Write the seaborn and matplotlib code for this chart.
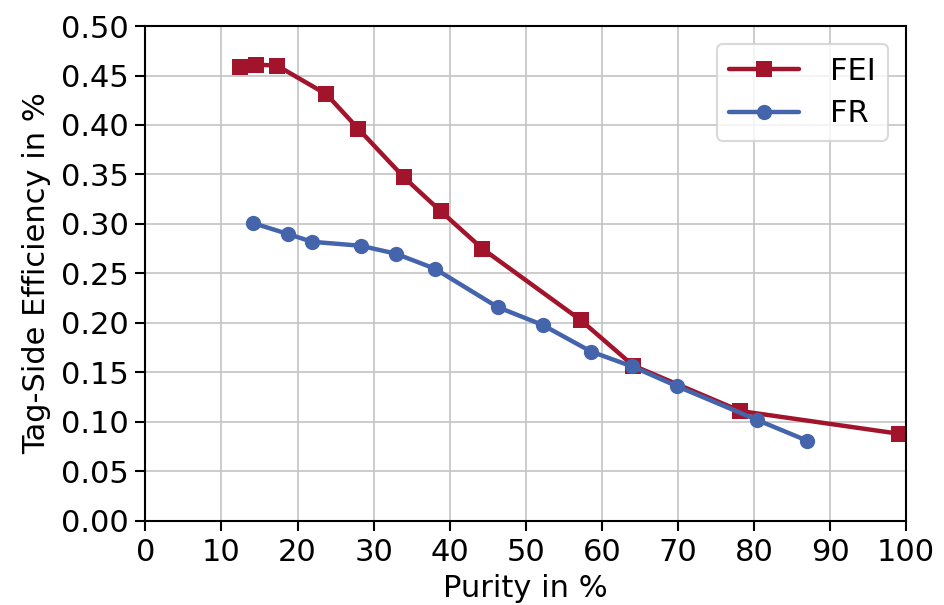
import matplotlib
matplotlib.use("Agg")
import matplotlib.pyplot as plt
import seaborn as sns
import pandas as pd

fei_purity = [12.4, 14.6, 17.3, 23.8, 28.0, 34.0, 38.8, 44.3, 57.2, 64.1, 78.2, 99.1]
fei_eff = [0.459, 0.461, 0.460, 0.431, 0.396, 0.347, 0.313, 0.275, 0.203, 0.157, 0.111, 0.088]
fr_purity = [14.1, 18.7, 21.9, 28.3, 32.9, 38.0, 46.3, 52.2, 58.6, 64.0, 69.9, 80.4, 87.0]
fr_eff = [0.301, 0.290, 0.282, 0.278, 0.270, 0.255, 0.216, 0.198, 0.171, 0.156, 0.136, 0.102, 0.081]

df = pd.concat([
    pd.DataFrame({"purity": fei_purity, "eff": fei_eff, "method": "FEI"}),
    pd.DataFrame({"purity": fr_purity, "eff": fr_eff, "method": "FR"}),
])

sns.set_style("ticks")
plt.rcParams["font.family"] = ["DejaVu Sans"]
plt.rcParams.update({"text.color": "black", "axes.labelcolor": "black",
                     "xtick.color": "black", "ytick.color": "black"})

fig, ax = plt.subplots(figsize=(9.44, 6.05), dpi=100)
fig.subplots_adjust(left=0.154, right=0.96, top=0.957, bottom=0.139)

palette = {"FEI": "#A2142B", "FR": "#4464AC"}
sns.lineplot(data=df, x="purity", y="eff", hue="method", style="method",
             markers={"FEI": "s", "FR": "o"}, dashes=False, palette=palette,
             linewidth=3.2, markersize=11, markeredgewidth=0, sort=False, ax=ax)

ax.set_xlim(0, 100)
ax.set_ylim(0, 0.5)
ax.set_xticks(range(0, 101, 10))
ax.set_yticks([i * 0.05 for i in range(11)])
ax.set_yticklabels([f"{i * 0.05:.2f}" for i in range(11)])
ax.grid(True, color="#c4c4c4", linewidth=1.2)
ax.set_axisbelow(True)
ax.tick_params(labelsize=22, length=7, width=1.5, pad=5)
for s in ax.spines.values():
    s.set_linewidth(1.5)
    s.set_color("black")
ax.set_xlabel("Purity in %", fontsize=22, labelpad=5)
ax.set_ylabel("Tag-Side Efficiency in %", fontsize=22, labelpad=7)

leg = ax.legend(title=None, fontsize=22, loc="upper right", frameon=True,
                handlelength=2.3, borderpad=0.4, labelspacing=0.45,
                handletextpad=1.0, borderaxespad=0.6)
leg.get_frame().set_edgecolor("#d0d0d0")
leg.get_frame().set_linewidth(1.5)

fig.savefig("out.png", dpi=100)
